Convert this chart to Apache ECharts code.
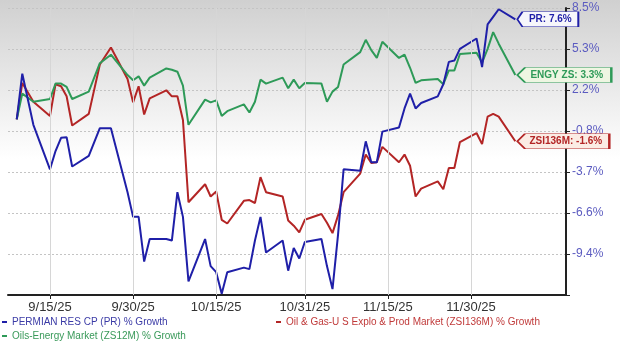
<!DOCTYPE html>
<html>
<head>
<meta charset="utf-8">
<script src="https://cdn.jsdelivr.net/npm/echarts@6/dist/echarts.min.js"></script>
<style>
  html, body { margin: 0; padding: 0; background: #fff; }
  #main { width: 620px; height: 353px; }
</style>
</head>
<body>
<div id="main"></div>
<script>
// trading days shown on the chart
const dates = [
  '2025-09-09', '2025-09-10', '2025-09-12', '2025-09-15', '2025-09-16', '2025-09-17', '2025-09-18',
  '2025-09-19', '2025-09-22', '2025-09-24', '2025-09-26', '2025-09-29', '2025-09-30',
  '2025-10-01', '2025-10-02', '2025-10-03', '2025-10-06', '2025-10-07', '2025-10-08', '2025-10-09',
  '2025-10-10', '2025-10-13', '2025-10-14', '2025-10-15', '2025-10-16', '2025-10-17', '2025-10-20',
  '2025-10-21', '2025-10-22', '2025-10-23', '2025-10-24', '2025-10-27', '2025-10-28', '2025-10-29',
  '2025-10-30', '2025-10-31',
  '2025-11-03', '2025-11-04', '2025-11-05', '2025-11-06', '2025-11-07', '2025-11-10', '2025-11-11',
  '2025-11-12', '2025-11-13', '2025-11-14', '2025-11-17', '2025-11-18', '2025-11-19', '2025-11-20',
  '2025-11-21', '2025-11-24', '2025-11-25', '2025-11-26', '2025-11-27', '2025-11-28',
  '2025-12-01', '2025-12-02', '2025-12-03', '2025-12-04', '2025-12-05', '2025-12-08'
];

// % growth
const prGrowth = [
  0, 3.4, -0.4, -3.6, -2.3, -1.35, -1.3, -3.4, -2.65, -0.65, -0.65, -5.2, -6.9,
  -6.9, -9.9, -8.4, -8.4, -8.5, -5.2, -6.9, -11.2, -8.4, -10.2, -10.6, -12.0, -10.6, -10.3,
  -10.4, -8.5, -6.9, -9.3, -8.5, -10.5, -9.0, -9.7, -8.6,
  -8.4, -10.2, -11.7, -8.1, -3.6, -3.7, -1.6, -3.1, -3.1, -0.9, -0.6, 0.8, 1.9, 0.8,
  1.2, 1.7, 2.6, 4.3, 4.4, 5.3,
  6.1, 3.9, 7.2, 7.8, 8.4, 7.6
];
const energyGrowth = [
  0, 1.9, 1.3, 1.5, 2.65, 2.65, 2.4, 1.5, 2.05, 4.2, 4.85, 3.3, 2.9,
  3.2, 2.5, 3.1, 3.8, 3.7, 3.55, 2.5, -0.4, 1.45, 1.25, 1.4, 0.25, 0.6, 1.1,
  0.5, 1.3, 2.95, 2.65, 3.1, 2.3, 2.95, 2.3, 2.7,
  2.65, 1.3, 2.05, 2.4, 4.1, 5.05, 6.0, 5.2, 4.6, 5.85, 4.6, 4.85, 3.85, 2.7,
  2.9, 3.0, 2.6, 3.65, 3.65, 4.9,
  5.0, 4.25, 5.3, 6.6, 5.7, 3.3
];
const explorationGrowth = [
  0, 2.7, 1.3, 0.25, 2.6, 2.45, 1.7, -0.45, 0.4, 4.1, 5.4, 3.0, 1.25,
  2.45, 0.35, 1.55, 2.15, 1.7, 1.7, -0.05, -5.9, -4.65, -5.5, -5.15, -7.1, -7.35, -5.8,
  -5.75, -5.95, -4.15, -5.2, -5.5, -7.15, -7.5, -7.95, -7.1,
  -6.7, -7.3, -8.0, -6.8, -5.2, -3.9, -2.55, -3.15, -3.1, -2.0, -3.1, -2.55, -3.35, -5.5,
  -4.95, -4.45, -5.0, -3.5, -3.5, -1.65,
  -1.0, -1.8, 0.2, 0.4, 0.2, -1.6
];

const seriesNames = [
  'PERMIAN RES CP (PR) % Growth',
  'Oil & Gas-U S Explo & Prod Market (ZSI136M) % Growth',
  'Oils-Energy Market (ZS12M) % Growth'
];
const shortNames = ['PR', 'ZSI136M', 'ENGY ZS'];

const xTicks = ['2025-09-15', '2025-09-30', '2025-10-15', '2025-10-31', '2025-11-15', '2025-11-30'];
const xTickLabels = ['9/15/25', '9/30/25', '10/15/25', '10/31/25', '11/15/25', '11/30/25'];
// right axis is a log-growth scale, gridlines evenly spaced
const yTickLabels = ['-9.4%', '-6.6%', '-3.7%', '-0.8%', '2.2%', '5.3%', '8.5%'];

// x is measured in days from 9/15/25
const ORIGIN = Date.UTC(2025, 8, 15);
function dayNum(s) {
  const p = s.split('-').map(Number);
  return Math.round((Date.UTC(p[0], p[1] - 1, p[2]) - ORIGIN) / 86400000);
}
const LOG_LOW = Math.log(1 + parseFloat(yTickLabels[0]) / 100);
const LOG_HIGH = Math.log(1 + parseFloat(yTickLabels[yTickLabels.length - 1]) / 100);
const STEP = (LOG_HIGH - LOG_LOW) / (yTickLabels.length - 1);
function toAxis(g) {
  return (Math.log(1 + g / 100) - LOG_LOW) / STEP;
}

const xTickDays = xTicks.map(dayNum);

const colors = ['#1f1fa8', '#b32525', '#2e9a58'];
const legendColors = ['#3b3ba6', '#c03a3a', '#3a9a5a'];
const boxFill = ['#f6f6fb', '#fbece4', '#eef6e2'];
const boxWidth = [61, 92, 94];
const values = [prGrowth, explorationGrowth, energyGrowth];
const GRID_COLOR = '#c4c4c4';

const chart = echarts.init(document.getElementById('main'));

const series = values.map(function (vals, i) {
  const data = dates.map(function (d, k) { return [dayNum(d), toAxis(vals[k])]; });
  const last = vals[vals.length - 1];
  const w = boxWidth[i];
  const s = {
    type: 'line',
    name: seriesNames[i],
    data: data,
    showSymbol: false,
    symbol: 'none',
    color: colors[i],
    lineStyle: { width: 2, color: colors[i] },
    z: i === 0 ? 4 : 3,
    markPoint: {
      silent: true,
      symbol: 'path://M0,7L5,0H60V14H5Z',
      symbolSize: [w, 15],
      symbolKeepAspect: false,
      symbolOffset: [w / 2 + 2, 0],
      itemStyle: { color: boxFill[i], borderColor: colors[i], borderWidth: 1 },
      label: {
        show: true,
        position: 'inside',
        offset: [2.5, 0],
        color: colors[i],
        fontFamily: 'Liberation Sans, Arial, sans-serif',
        fontSize: 10,
        fontWeight: 'bold',
        formatter: shortNames[i] + ': ' + last.toFixed(1) + '%'
      },
      data: [{ coord: data[data.length - 1] }]
    }
  };
  if (i === 2) {
    // vertical gridlines at the date ticks
    s.markLine = {
      silent: true,
      symbol: 'none',
      label: { show: false },
      lineStyle: { color: '#d6d6d6', width: 1, type: 'solid' },
      data: xTickDays.map(function (d) { return { xAxis: d }; })
    };
  }
  return s;
});

const legendPos = [[2, 317], [276, 317], [2, 331]];

chart.setOption({
  animation: false,
  backgroundColor: {
    type: 'linear', x: 0, y: 0, x2: 0, y2: 1,
    colorStops: [
      { offset: 0, color: '#d0d0d0' },
      { offset: 0.45, color: '#ffffff' },
      { offset: 1, color: '#ffffff' }
    ]
  },
  grid: { left: 8, right: 54, top: 8, bottom: 58 },
  legend: seriesNames.map(function (n, i) {
    return {
      left: legendPos[i][0],
      top: legendPos[i][1],
      padding: 0,
      icon: 'rect',
      itemWidth: 5,
      itemHeight: 2,
      data: [n],
      textStyle: {
        color: legendColors[i],
        fontSize: 10,
        fontFamily: 'Liberation Sans, Arial, sans-serif'
      }
    };
  }),
  xAxis: {
    type: 'value',
    min: -7.58,
    max: 76 + 17.15,
    axisLine: { onZero: false, lineStyle: { color: '#222', width: 2 } },
    axisTick: { customValues: xTickDays, length: 4, lineStyle: { color: '#222' } },
    axisLabel: {
      customValues: xTickDays,
      color: '#333',
      fontSize: 13,
      fontFamily: 'Liberation Sans, Arial, sans-serif',
      margin: 6,
      formatter: function (v) {
        const k = xTickDays.indexOf(v);
        return k >= 0 ? xTickLabels[k] : '';
      }
    },
    splitLine: { show: false }
  },
  yAxis: {
    type: 'value',
    position: 'right',
    min: -1,
    max: yTickLabels.length - 1,
    interval: 1,
    axisLine: { show: true, onZero: false, lineStyle: { color: '#222', width: 2 } },
    axisTick: { show: true, length: 4, lineStyle: { color: '#222' } },
    axisLabel: {
      color: '#5b5bc0',
      fontSize: 12,
      fontFamily: 'Liberation Sans, Arial, sans-serif',
      margin: 6,
      formatter: function (v) {
        return v >= 0 ? yTickLabels[Math.round(v)] : '';
      }
    },
    splitLine: { show: true, lineStyle: { color: GRID_COLOR, type: [2, 2] } }
  },
  series: series
});
</script>
</body>
</html>
